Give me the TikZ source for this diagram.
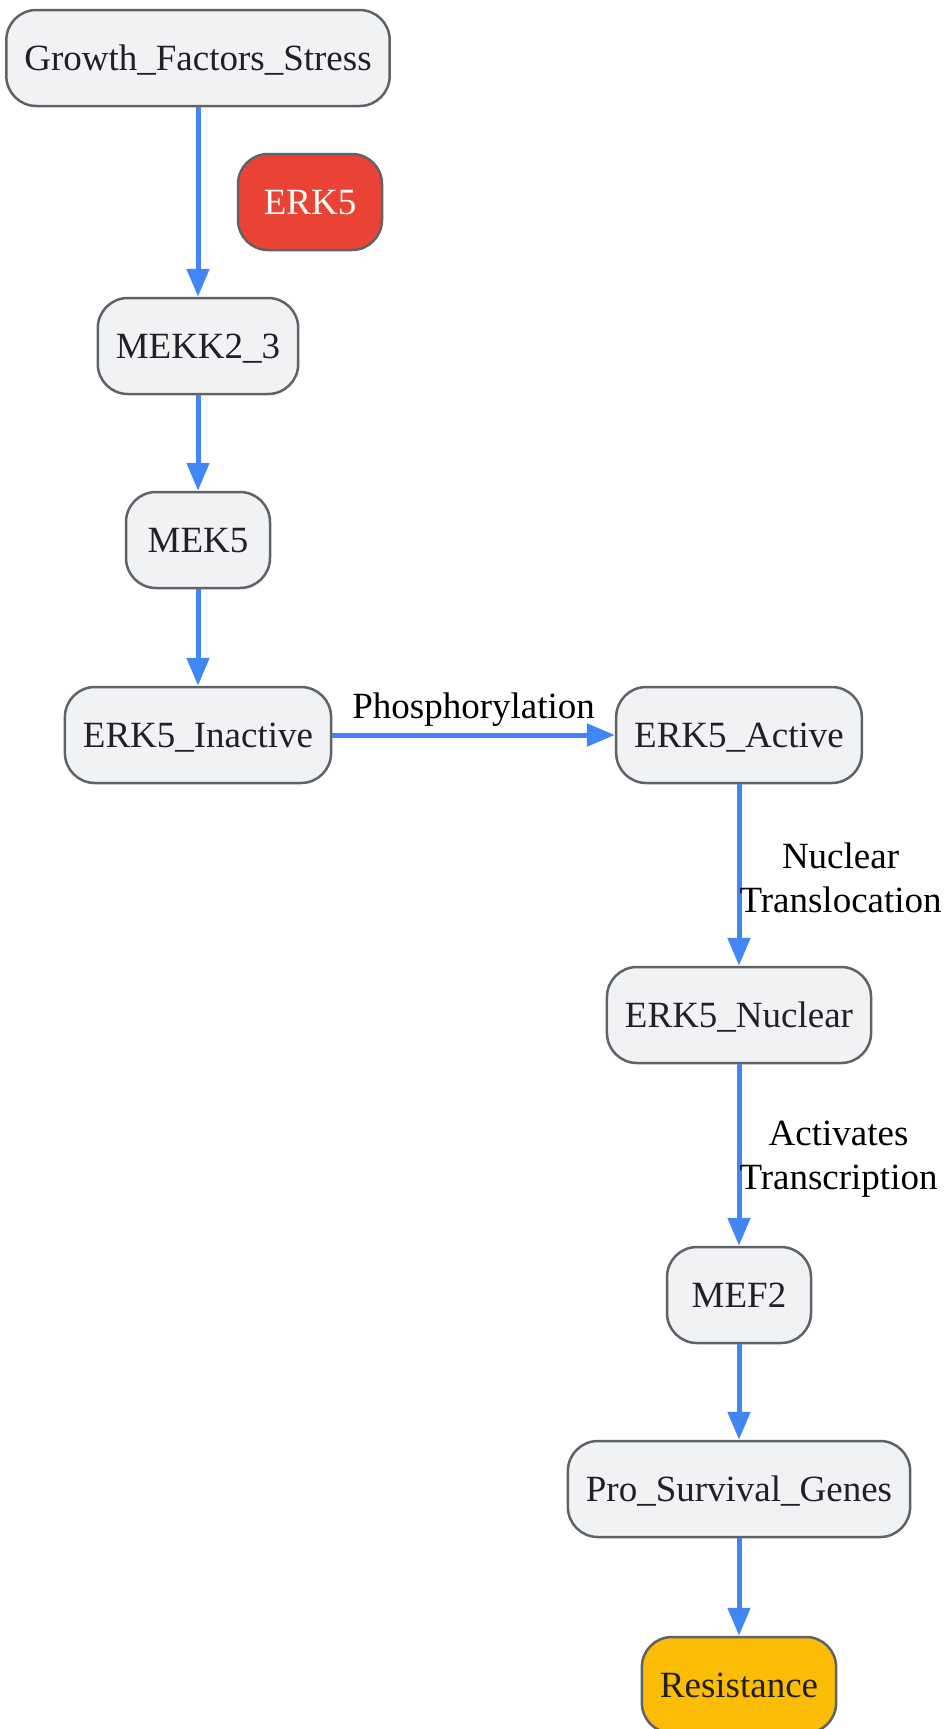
\documentclass[tikz,border=0pt]{standalone}
\usepackage{fontspec}
\setmainfont{Liberation Serif}
\usetikzlibrary{arrows.meta}
\definecolor{boxfill}{HTML}{F1F2F4}
\definecolor{boxline}{HTML}{5F6368}
\definecolor{boxtext}{HTML}{202124}
\definecolor{edgeblue}{HTML}{4285F4}
\definecolor{erkred}{HTML}{EA4335}
\definecolor{resyellow}{HTML}{FBBC04}
\tikzset{
  x=1pt, y=1pt,
  Box/.style = {draw=boxline, fill=boxfill, line width=2.5pt,
                rounded corners=30pt, minimum height=96pt,
                minimum width=144pt, inner xsep=18pt,
                text height=25pt, text depth=0pt,
                text=boxtext, font=\fontsize{37}{44}\selectfont},
  EdgeStyle/.style = {draw=edgeblue, line width=5pt,
                      -{Triangle[length=28pt,width=22pt]}},
  EdgeLabel/.style = {font=\fontsize{37}{44}\selectfont, align=center,
                      text=black}
}

\begin{document}
\begin{tikzpicture}
  \useasboundingbox (0,0) rectangle (943,-1729);
  \node[Box] (GFS) at (198,-58) {Growth\_Factors\_Stress};
  \node[Box, fill=erkred, text=white] (ERK) at (310,-202) {ERK5};
  \node[Box] (MEKK) at (198,-346) {MEKK2\_3};
  \node[Box] (MEK) at (198,-540) {MEK5};
  \node[Box] (INACT) at (198,-735) {ERK5\_Inactive};
  \node[Box] (ACT) at (739,-735) {ERK5\_Active};
  \node[Box] (NUC) at (739,-1015) {ERK5\_Nuclear};
  \node[Box] (MEF) at (739,-1295) {MEF2};
  \node[Box] (PSG) at (739,-1489) {Pro\_Survival\_Genes};
  \node[Box, fill=resyellow] (RES) at (739,-1685) {Resistance};
  % edges
  \draw[EdgeStyle] (GFS) -- (MEKK);
  \draw[EdgeStyle] (MEKK) -- (MEK);
  \draw[EdgeStyle] (MEK) -- (INACT);
  \draw[EdgeStyle] (INACT) -- node[EdgeLabel, above=4pt, inner sep=2pt] {Phosphorylation} (ACT);
  \draw[EdgeStyle] (ACT) -- node[EdgeLabel, anchor=west, inner sep=0pt, xshift=-2pt, yshift=-3pt] {Nuclear\\Translocation} (NUC);
  \draw[EdgeStyle] (NUC) -- node[EdgeLabel, anchor=west, inner sep=0pt, xshift=-2pt, yshift=-4pt] {Activates\\Transcription} (MEF);
  \draw[EdgeStyle] (MEF) -- (PSG);
  \draw[EdgeStyle] (PSG) -- (RES);
\end{tikzpicture}
\end{document}
